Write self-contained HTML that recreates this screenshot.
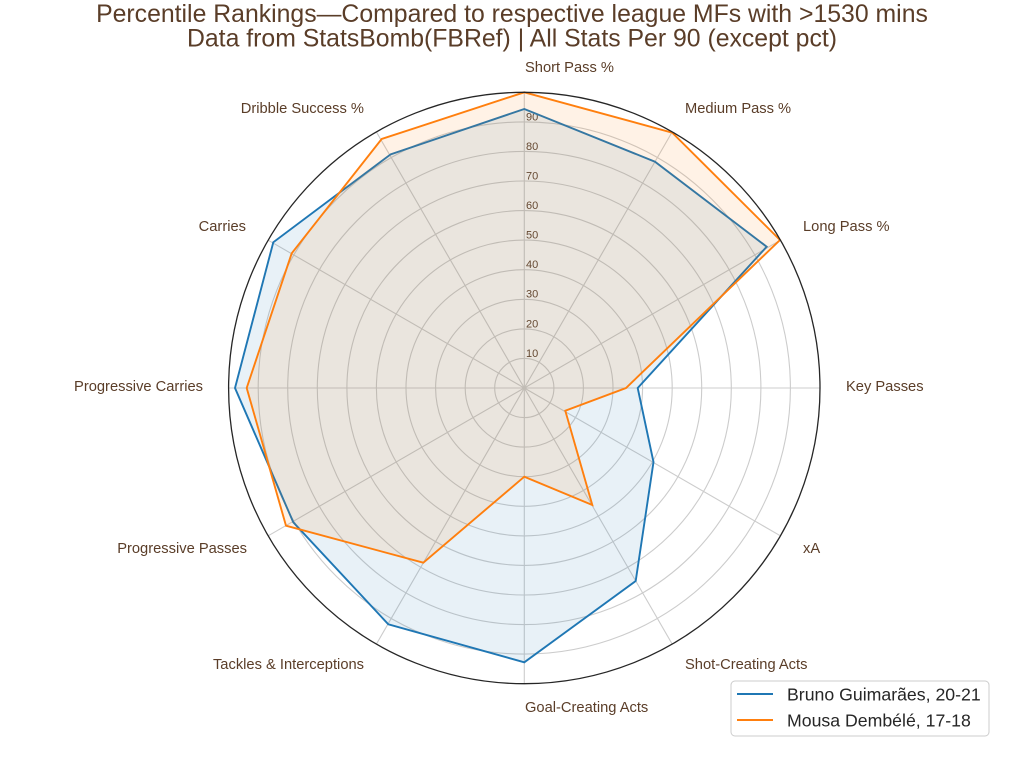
<!DOCTYPE html>
<html>
<head>
<meta charset="utf-8">
<style>
  html, body { margin: 0; padding: 0; background: #ffffff; }
  body { width: 1024px; height: 768px; overflow: hidden; }
  svg { display: block; }
  .t { font-family: "Liberation Sans", Arial, sans-serif; fill: #5a3d28; }
</style>
</head>
<body>
<svg width="1024" height="768" viewBox="0 0 1024 768" xmlns="http://www.w3.org/2000/svg">
  <rect x="0" y="0" width="1024" height="768" fill="#ffffff"/>

  <!-- Title -->
  <text class="t" x="512" y="22" font-size="24.8" text-anchor="middle">Percentile Rankings—Compared to respective league MFs with &gt;1530 mins</text>
  <text class="t" x="512" y="46.5" font-size="24.8" text-anchor="middle">Data from StatsBomb(FBRef) | All Stats Per 90 (except pct)</text>

  <!-- Grid circles -->
  <g fill="none" stroke="#cccccc" stroke-width="1.1">
    <circle cx="524.3" cy="388" r="29.6"/>
    <circle cx="524.3" cy="388" r="59.1"/>
    <circle cx="524.3" cy="388" r="88.7"/>
    <circle cx="524.3" cy="388" r="118.3"/>
    <circle cx="524.3" cy="388" r="147.9"/>
    <circle cx="524.3" cy="388" r="177.4"/>
    <circle cx="524.3" cy="388" r="207"/>
    <circle cx="524.3" cy="388" r="236.6"/>
    <circle cx="524.3" cy="388" r="266.1"/>
  </g>
  <!-- Spokes -->
  <g stroke="#cccccc" stroke-width="1.1">
    <line x1="524.3" y1="388" x2="524.3" y2="92.3"/>
    <line x1="524.3" y1="388" x2="672.2" y2="131.9"/>
    <line x1="524.3" y1="388" x2="780.4" y2="240.2"/>
    <line x1="524.3" y1="388" x2="820" y2="388"/>
    <line x1="524.3" y1="388" x2="780.4" y2="535.8"/>
    <line x1="524.3" y1="388" x2="672.2" y2="644.1"/>
    <line x1="524.3" y1="388" x2="524.3" y2="683.7"/>
    <line x1="524.3" y1="388" x2="376.4" y2="644.1"/>
    <line x1="524.3" y1="388" x2="268.2" y2="535.8"/>
    <line x1="524.3" y1="388" x2="228.6" y2="388"/>
    <line x1="524.3" y1="388" x2="268.2" y2="240.2"/>
    <line x1="524.3" y1="388" x2="376.4" y2="131.9"/>
  </g>

  <!-- Radial tick labels -->
  <g class="t" font-size="11">
    <text class="t" x="526" y="356.8">10</text>
    <text class="t" x="526" y="327.3">20</text>
    <text class="t" x="526" y="297.7">30</text>
    <text class="t" x="526" y="268.1">40</text>
    <text class="t" x="526" y="238.6">50</text>
    <text class="t" x="526" y="209">60</text>
    <text class="t" x="526" y="179.4">70</text>
    <text class="t" x="526" y="149.8">80</text>
    <text class="t" x="526" y="120.3">90</text>
  </g>

  <!-- Blue series -->
  <polygon points="524.3,109 655,161.7 766.7,246.7 637.7,388 653.5,462 635.7,581 524.3,662.3 388.3,624.3 293.3,522.3 235,388 273.3,242.3 390.7,154.3"
           fill="#1f77b4" fill-opacity="0.1" stroke="none"/>
  <polygon points="524.3,109 655,161.7 766.7,246.7 637.7,388 653.5,462 635.7,581 524.3,662.3 388.3,624.3 293.3,522.3 235,388 273.3,242.3 390.7,154.3"
           fill="none" stroke="#1f77b4" stroke-width="1.9" stroke-linejoin="miter"/>

  <!-- Orange series -->
  <polygon points="524.3,92.3 672.3,132.7 780,240 626,388 565.3,410.7 592.3,505 524.3,476.7 423.3,562.7 286,525.7 246.7,388 291.7,253.3 381.7,139"
           fill="#ff7f0e" fill-opacity="0.1" stroke="none"/>
  <polygon points="524.3,92.3 672.3,132.7 780,240 626,388 565.3,410.7 592.3,505 524.3,476.7 423.3,562.7 286,525.7 246.7,388 291.7,253.3 381.7,139"
           fill="none" stroke="#ff7f0e" stroke-width="1.9" stroke-linejoin="miter"/>

  <!-- Outer circle -->
  <circle cx="524.3" cy="388" r="295.7" fill="none" stroke="#262626" stroke-width="1.3"/>

  <!-- Axis labels -->
  <g font-size="14.7">
    <text class="t" x="525" y="72">Short Pass %</text>
    <text class="t" x="685" y="113">Medium Pass %</text>
    <text class="t" x="803" y="231">Long Pass %</text>
    <text class="t" x="846" y="391">Key Passes</text>
    <text class="t" x="803" y="553">xA</text>
    <text class="t" x="685" y="669">Shot-Creating Acts</text>
    <text class="t" x="525" y="712">Goal-Creating Acts</text>
    <text class="t" x="364" y="669" text-anchor="end">Tackles &amp; Interceptions</text>
    <text class="t" x="247" y="553" text-anchor="end">Progressive Passes</text>
    <text class="t" x="203" y="391" text-anchor="end">Progressive Carries</text>
    <text class="t" x="246" y="231" text-anchor="end">Carries</text>
    <text class="t" x="364" y="113" text-anchor="end">Dribble Success %</text>
  </g>

  <!-- Legend -->
  <rect x="731" y="681" width="258" height="55" rx="4" ry="4" fill="#ffffff" fill-opacity="0.9" stroke="#cccccc" stroke-width="1"/>
  <line x1="737" y1="694" x2="773" y2="694" stroke="#1f77b4" stroke-width="1.9"/>
  <line x1="737" y1="720" x2="773" y2="720" stroke="#ff7f0e" stroke-width="1.9"/>
  <text x="787" y="700.3" font-size="17.7" font-family="Liberation Sans, Arial, sans-serif" fill="#262626">Bruno Guimarães, 20-21</text>
  <text x="787" y="726.3" font-size="17.7" font-family="Liberation Sans, Arial, sans-serif" fill="#262626">Mousa Dembélé, 17-18</text>
</svg>
</body>
</html>
